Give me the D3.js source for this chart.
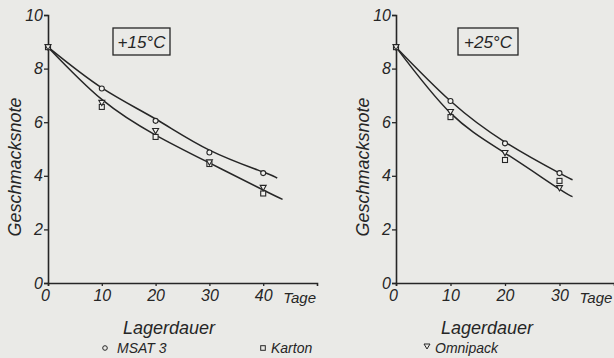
<!DOCTYPE html>
<html>
<head>
<meta charset="utf-8">
<script src="https://cdn.jsdelivr.net/npm/d3@7"></script>
<style>
  body { margin: 0; background: #eaeae7; }
  svg { display: block; }
  text { font-family: 'Liberation Sans', Arial, sans-serif; font-style: italic; fill: #262626; }
</style>
</head>
<body>
<div id="chart"></div>
<script>
const days15 = [0, 10, 20, 30, 40]
const msat15 = [8.8, 7.26, 6.05, 4.87, 4.1]
const karton15 = [8.8, 6.57, 5.45, 4.44, 3.34]
const omni15 = [8.8, 6.72, 5.67, 4.5, 3.55]

const days25 = [0, 10, 20, 30]
const msat25 = [8.8, 6.79, 5.21, 4.1]
const karton25 = [8.8, 6.19, 4.59, 3.81]
const omni25 = [8.8, 6.38, 4.85, 3.54]

// fitted curves
const fitDaysUp15 = [0, 10, 20, 30, 40, 42.6]
const fitUp15 = [8.8, 7.28, 6.12, 4.96, 4.14, 3.91]
const fitDaysLo15 = [0, 10, 20, 30, 40, 43.6]
const fitLo15 = [8.8, 6.85, 5.52, 4.48, 3.47, 3.12]

const fitDays25 = [0, 10, 20, 30, 32.4]
const fitUp25 = [8.8, 6.79, 5.26, 4.1, 3.85]
const fitLo25 = [8.8, 6.34, 4.85, 3.5, 3.23]

const yTicks = [0, 2, 4, 6, 8, 10]
const xTicks15 = [0, 10, 20, 30, 40]
const xTicks25 = [0, 10, 20, 30]

const W = 614, H = 358
const ink = '#262626'

const svg = d3.select('#chart').append('svg')
  .attr('width', W).attr('height', H)

function panel (o) {
  var x = d3.scaleLinear().domain(o.xDomain).range(o.xRange)
  var y = d3.scaleLinear().domain([0, 10]).range([283, 15])
  var g = svg.append('g')

  // axes
  var yAxis = g.append('g').attr('transform', 'translate(' + o.xRange[0] + ',0)')
    .call(d3.axisLeft(y).tickValues(yTicks).tickSize(4).tickFormat(d3.format('d')))
  var xAxis = g.append('g').attr('transform', 'translate(0,283)')
    .call(d3.axisBottom(x).tickValues(o.xTicks).tickSize(3).tickFormat(d3.format('d')))
  ;[xAxis, yAxis].forEach(a => {
    a.select('.domain').attr('stroke', ink).attr('stroke-width', 1.6)
    a.selectAll('.tick line').attr('stroke', ink).attr('stroke-width', 1.3)
    a.selectAll('.tick text').attr('font-size', 16).attr('fill', ink)
      .style('font-family', "'Liberation Sans', Arial, sans-serif")
  })
  yAxis.selectAll('.tick text').attr('x', -5)
  xAxis.selectAll('.tick text').attr('y', 7)
  xAxis.select('.tick text').attr('dx', -3)

  var lastTick = o.xTicks[o.xTicks.length - 1]
  g.append('text').attr('x', x(lastTick) + 20).attr('y', 303)
    .attr('font-size', 15).text('Tage')

  g.append('text').attr('x', o.xRange[0] + o.titleOff).attr('y', 334)
    .attr('text-anchor', 'middle').attr('font-size', 18).text('Lagerdauer')

  g.append('text')
    .attr('transform', 'translate(' + (o.xRange[0] - 27) + ',167) rotate(-90)')
    .attr('text-anchor', 'middle').attr('font-size', 18).text('Geschmacksnote')

  // temperature box
  g.append('rect').attr('x', o.box[0]).attr('y', 28).attr('width', o.box[1])
    .attr('height', 27).attr('fill', 'none').attr('stroke', ink).attr('stroke-width', 1.3)
  g.append('text').attr('x', o.box[0] + o.box[1] / 2).attr('y', 48)
    .attr('text-anchor', 'middle').attr('font-size', 17).text(o.label)

  // fitted curves
  var line = d3.line().x(d => x(d[0])).y(d => y(d[1])).curve(d3.curveNatural)
  o.curves.forEach(c => {
    g.append('path').datum(d3.zip(c[0], c[1])).attr('d', line)
      .attr('fill', 'none').attr('stroke', ink).attr('stroke-width', 1.5)
  })

  // markers
  var marks = g.append('g').attr('fill', '#f2f2ef').attr('stroke', ink).attr('stroke-width', 1.1)
  marks.selectAll('circle').data(d3.zip(o.days, o.msat)).join('circle')
    .attr('cx', d => x(d[0])).attr('cy', d => y(d[1])).attr('r', 2.5)
  marks.selectAll('rect').data(d3.zip(o.days, o.karton)).join('rect')
    .attr('x', d => x(d[0]) - 2.5).attr('y', d => y(d[1]) - 2.5)
    .attr('width', 5).attr('height', 5)
  marks.selectAll('path').data(d3.zip(o.days, o.omni)).join('path')
    .attr('d', d => {
      var cx = x(d[0]), cy = y(d[1])
      return 'M' + (cx - 3) + ',' + (cy - 2.5) + 'L' + (cx + 3) + ',' + (cy - 2.5) + 'L' + cx + ',' + (cy + 2.8) + 'Z'
    })
}

panel({
  xDomain: [0, 50], xRange: [48, 317], xTicks: xTicks15, titleOff: 121,
  box: [113, 57], label: '+15°C',
  days: days15, msat: msat15, karton: karton15, omni: omni15,
  curves: [[fitDaysUp15, fitUp15], [fitDaysLo15, fitLo15]]
})
panel({
  xDomain: [0, 40], xRange: [396, 614], xTicks: xTicks25, titleOff: 91,
  box: [458, 60], label: '+25°C',
  days: days25, msat: msat25, karton: karton25, omni: omni25,
  curves: [[fitDays25, fitUp25], [fitDays25, fitLo25]]
})

// legend
const legendItems = ['MSAT 3', 'Karton', 'Omnipack']
const legendX = [105, 263, 427]
const leg = svg.append('g')
legendItems.forEach((name, i) => {
  var lx = legendX[i], ly = 348
  if (i === 0) leg.append('circle').attr('cx', lx).attr('cy', ly).attr('r', 2.3)
  if (i === 1) leg.append('rect').attr('x', lx - 2.3).attr('y', ly - 2.3).attr('width', 4.6).attr('height', 4.6)
  if (i === 2) leg.append('path').attr('d', 'M' + (lx - 3) + ',' + (ly - 4) + 'L' + (lx + 3) + ',' + (ly - 4) + 'L' + lx + ',' + (ly + 1) + 'Z')
  leg.append('text').attr('x', lx + (i === 0 ? 12 : 8)).attr('y', ly + 5)
    .attr('font-size', 14).text(name)
})
leg.selectAll('circle, rect, path').attr('fill', 'none').attr('stroke', ink).attr('stroke-width', 1)
</script>
</body>
</html>
